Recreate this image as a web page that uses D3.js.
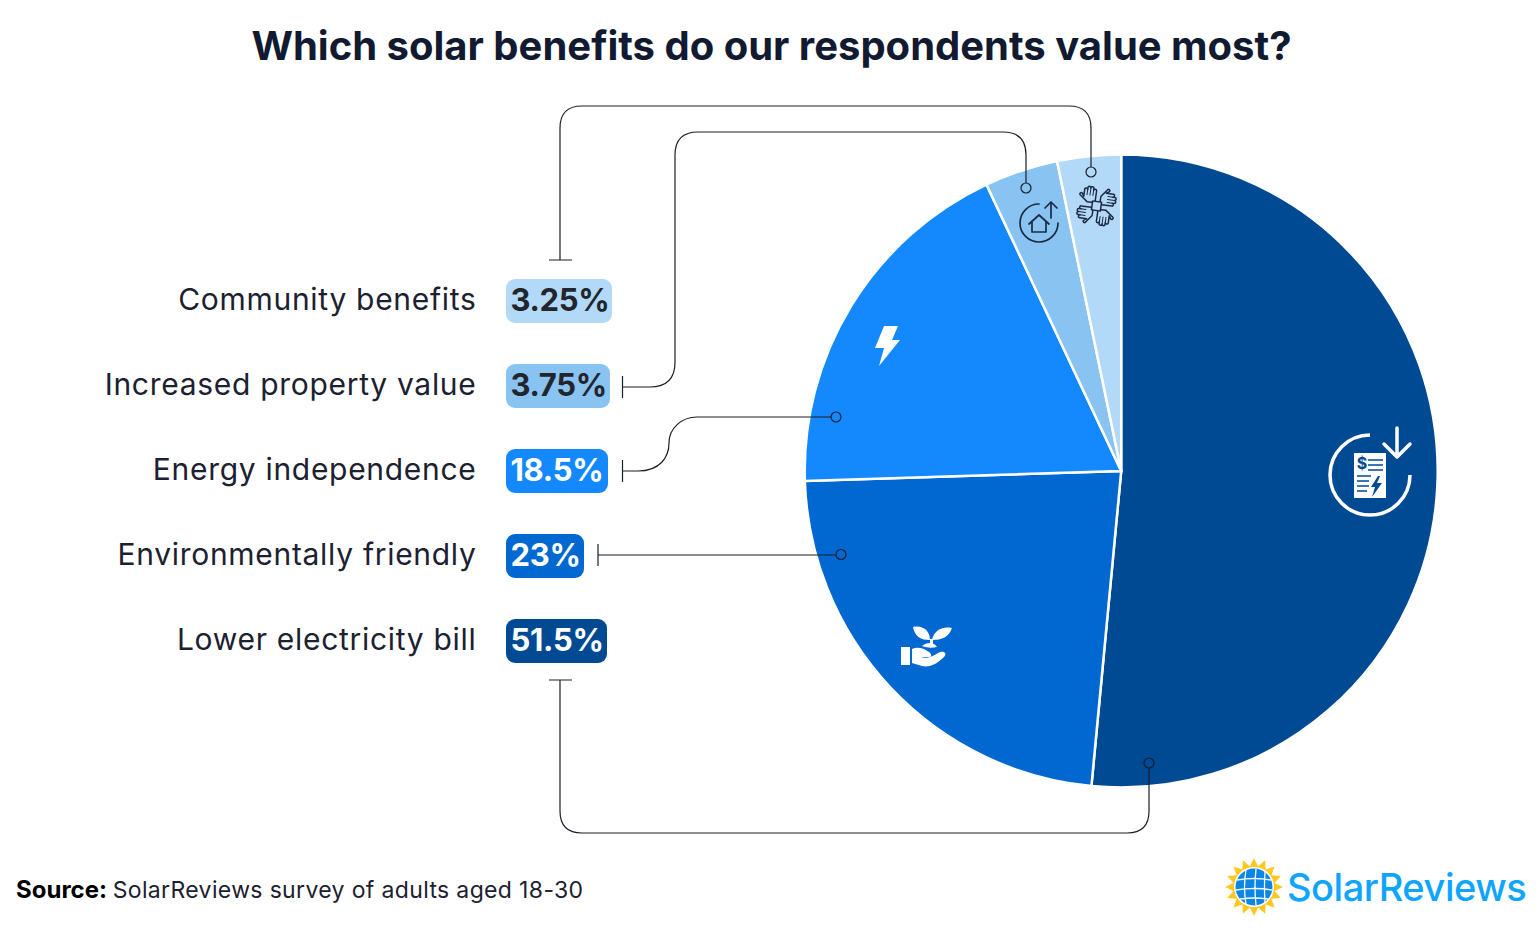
<!DOCTYPE html>
<html><head><meta charset="utf-8">
<script src="https://cdn.jsdelivr.net/npm/d3@7"></script>
<style>html,body{margin:0;padding:0;background:#fff}svg{display:block}text{font-family:Inter,sans-serif}</style>
</head><body><svg id="c" width="1540" height="930"></svg>
<script>
const categories=["Lower electricity bill","Environmentally friendly","Energy independence","Increased property value","Community benefits"];
const values=[51.5,23,18.5,3.75,3.25];
const valueLabels=["51.5%","23%","18.5%","3.75%","3.25%"];
const colors=["#004A93","#0068D0","#1489FE","#88C3F1","#B2D9F7"];
const badgeText=["#fff","#fff","#fff","#22252B","#22252B"];
const badgeWidths=[101,78,102,104,106];
const rowOrder=["Community benefits","Increased property value","Energy independence","Environmentally friendly","Lower electricity bill"];
const cx=1121.2,cy=471,R=316.5;
const svg=d3.select("#c");
svg.append("text").attr("x",771.5).attr("y",60).attr("text-anchor","middle").attr("font-size",40).attr("font-weight",700).attr("fill","#111A30").text("Which solar benefits do our respondents value most?");

const pie=d3.pie().sort(null).value(d=>d)(values);
const arc=d3.arc().innerRadius(0).outerRadius(R);
svg.append("g").attr("transform",`translate(${cx},${cy})`).selectAll("path").data(pie).join("path")
 .attr("d",arc).attr("fill",(d,i)=>colors[i]).attr("stroke","#fff").attr("stroke-width",2.5);

const y=d3.scalePoint().domain(rowOrder).range([301,641]);
const rows=svg.append("g");
categories.forEach((c,i)=>{
 const yy=y(c);
 rows.append("text").attr("x",476.5).attr("y",yy+9).attr("text-anchor","end").attr("font-size",30).attr("letter-spacing",0.7).attr("fill","#1B2130").text(c);
 rows.append("rect").attr("x",506).attr("y",yy-22).attr("width",badgeWidths[i]).attr("height",44).attr("rx",9).attr("fill",colors[i]);
 rows.append("text").attr("x",510.5).attr("y",yy+9.5).attr("font-size",31).attr("letter-spacing",-0.3).attr("font-weight",700).attr("fill",badgeText[i]).text(valueLabels[i]);
});

// leader lines
const leaders=[
 "M549 260H572M560 260V128Q560 106 582 106H1069Q1091 106 1091 128V167",
 "M622.5 376V398M622.5 387H650Q675 387 675 362V155Q675 132 698 132H1003Q1026 132 1026 155V183",
 "M622.5 460V482M622.5 471H638C660 471 669 457 669 443C669 428 682 417 697 417H831",
 "M598 544V566M598 555H836",
 "M549 680H572M560 680V811Q560 833 582 833H1127Q1149 833 1149 811V768"];
const lg=svg.append("g").attr("fill","none").attr("stroke","#1B1F2A").attr("stroke-width",1.2);
leaders.forEach(d=>lg.append("path").attr("d",d));
const dots=[[1091,172],[1026,188],[836,417],[841,554.5],[1149,763]];
lg.selectAll("circle").data(dots).join("circle").attr("cx",d=>d[0]).attr("cy",d=>d[1]).attr("r",5);

// icons
const w=svg.append("g").attr("fill","none").attr("stroke","#fff");
// bill
const bill=w.append("g").attr("transform","translate(1370,475)");
bill.append("path").attr("stroke-width",3.5).attr("stroke-linecap","round").attr("d",d3.arc().innerRadius(40).outerRadius(40).startAngle(0).endAngle(-Math.PI*1.5)());
bill.append("path").attr("stroke-width",3.5).attr("stroke-linecap","round").attr("stroke-linejoin","round").attr("d","M27 -47V-18M14 -31L27 -18L40 -31");
bill.append("rect").attr("x",-16).attr("y",-22).attr("width",32).attr("height",45).attr("fill","#fff").attr("stroke","none");
bill.append("path").attr("stroke","#004A93").attr("stroke-width",1.7).attr("d","M-2 -15H13M-2 -10H13M-2 -5H13M-13 1H1M-13 6H-1M-13 11H-1M-13 16H-3");
bill.append("path").attr("fill","#004A93").attr("stroke","none").attr("d","M8 1L1 12H5L2 22L12 8H7L10 1Z");
bill.append("text").attr("x",-8).attr("y",-6).attr("text-anchor","middle").attr("font-size",16).attr("font-weight",700).attr("fill","#004A93").attr("stroke","none").text("$");
// bolt
svg.append("path").attr("fill","#fff").attr("d","M884 326H898L892 340H900L879 366L884 348H875Z");
// plant
const pl=svg.append("g").attr("transform","translate(885,615)").attr("fill","#fff");
pl.append("path").attr("d","M28 12C37 10 45 15 45 25C36 25 30 22 28 12ZM67 13C58 11 49 15 47 25C57 25 64 22 67 13Z");
pl.append("path").attr("d","M45 24L45 30H48L48 24Z");
pl.append("path").attr("d","M37 31C42 27 49 27 52 32C47 33 42 33 37 31Z");
pl.append("rect").attr("x",16).attr("y",32).attr("width",9).attr("height",18);
pl.append("path").attr("d","M27 34C33 31 40 34 44 37C47 39 47 42 44 42H36C41 44 47 42 53 38C58 35 63 38 59 42C53 48 45 53 37 51L27 48Z");
// house
const dark=svg.append("g").attr("fill","none").attr("stroke","#1E2A44").attr("stroke-width",1.7).attr("stroke-linecap","round").attr("stroke-linejoin","round");
dark.append("path").attr("d",d3.arc().innerRadius(19).outerRadius(19).startAngle(0).endAngle(-Math.PI*1.5)()).attr("transform","translate(1039,223)");
dark.append("path").attr("d","M1051 218V202M1045 208L1051 202L1057 208");
dark.append("path").attr("d","M1029 224L1039 215L1049 224M1032 221.5V232H1046V221.5");
// hands
const h=dark.append("g").attr("transform","translate(1096.5,206) rotate(8)").attr("stroke-width",1.5);
[0,90,180,270].forEach(a=>{
 const g=h.append("g").attr("transform",`rotate(${a})`);
 g.append("path").attr("d","M-2 -5V-15a1.5 1.5 0 0 0 -3 0V-17a1.5 1.5 0 0 0 -3 0a1.5 1.5 0 0 0 -3 0V-15a1.5 1.5 0 0 0 -3 0V-8L-16 -11a1.5 1.5 0 0 0 -2 2L-10 -3H-5");
 g.append("path").attr("stroke-width",1).attr("d","M-5 -15V-10M-8 -17V-10M-11 -15V-10");
});
h.append("rect").attr("x",-4.5).attr("y",-4.5).attr("width",9).attr("height",9);

// footer
const ft=svg.append("text").attr("x",16).attr("y",898).attr("fill","#1B2130");
ft.append("tspan").attr("font-weight",700).attr("font-size",24).attr("fill","#000").text("Source: ");
ft.append("tspan").attr("font-size",23).attr("letter-spacing",0.35).text("SolarReviews survey of adults aged 18-30");

// logo
const lo=svg.append("g").attr("transform","translate(1254,887)");
const pts=[];const n=16;
for(let i=0;i<n*2;i++){const r=i%2?21:29;const t=i*Math.PI/n;pts.push([r*Math.sin(t),-r*Math.cos(t)]);}
lo.append("path").attr("d",d3.line()(pts)+"Z").attr("fill","#FFC81E");
lo.append("circle").attr("r",20).attr("fill","#fff");
lo.append("circle").attr("r",18.5).attr("fill","#0A86E6");
const gr=lo.append("g").attr("stroke","#fff").attr("stroke-width",1.3).attr("fill","none");
gr.append("path").attr("d","M-8 -17Q-11 0 -8 17M2 -18Q0 0 2 18M11 -15Q10 0 11 15M-17 -7Q0 -10 17 -7M-18 3Q0 0 18 3M-14 12Q0 10 14 12");
svg.append("text").attr("x",1287).attr("y",901).attr("font-size",38).attr("font-weight",500).attr("letter-spacing",-0.45).attr("fill","#0EA5FF").text("SolarReviews");
</script></body></html>
